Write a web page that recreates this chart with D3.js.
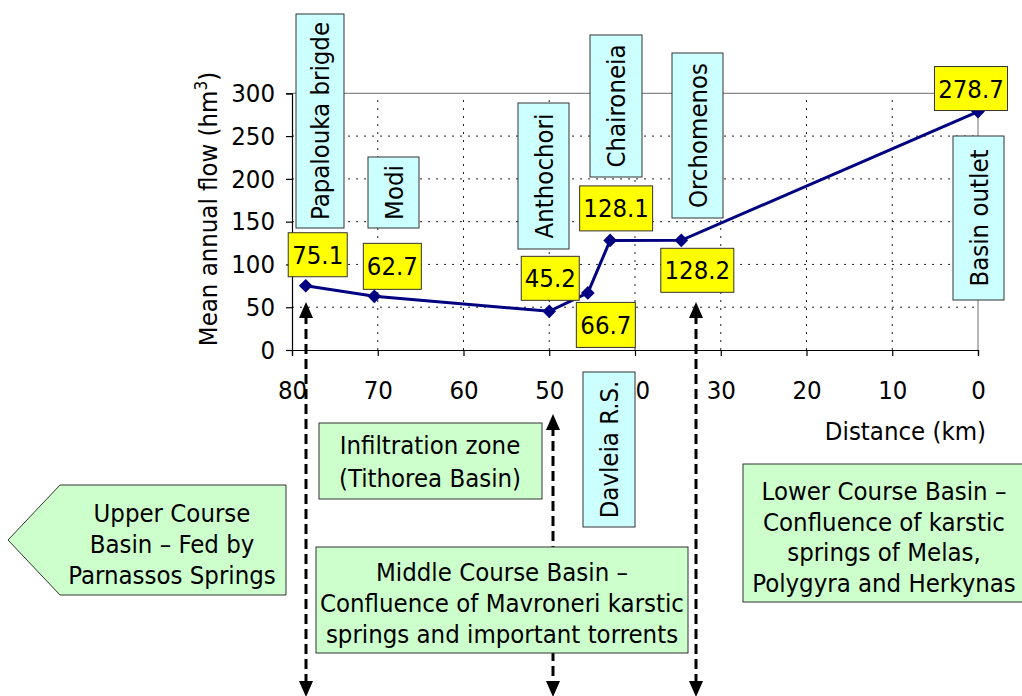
<!DOCTYPE html>
<html>
<head>
<meta charset="utf-8">
<script src="https://cdnjs.cloudflare.com/ajax/libs/d3/7.8.5/d3.min.js"></script>
<style>
body { margin: 0; background: #fff; }
text { font-family: "DejaVu Sans Condensed", "DejaVu Sans", sans-serif; font-stretch: condensed; fill: #000; }
</style>
</head>
<body>
<script>
"use strict";

// data
var distances = [78.4, 70.4, 50.0, 45.5, 42.9, 34.6, 0];
var flows = [75.1, 62.7, 45.2, 66.7, 128.1, 128.2, 278.7];
var stations = ["Papalouka brigde", "Modi", "Anthochori", "Davleia R.S.", "Chaironeia", "Orchomenos", "Basin outlet"];
var xTicks = [80, 70, 60, 50, 40, 30, 20, 10, 0];
var yTicks = [0, 50, 100, 150, 200, 250, 300];
var zoneBounds = [78.4, 49.6, 32.9];

// layout only (pixel offsets / boxes)
var valueBoxes = [ // dx, dy from point, width, height
	[12, -31, 59, 44], [18, -30, 58, 46], [1, -33, 58, 44], [18, 32, 59, 45],
	[6, -32, 73, 45], [16, 30, 73, 44], [-7, -23, 73, 44]
];
var stationBoxes = [ // x, y, w, h
	[296, 14, 48, 214], [368, 157, 51, 71], [518, 103, 51, 146], [583, 372, 52, 155],
	[590, 35, 52, 142], [672, 53, 51, 165], [953, 136, 51, 164]
];

var width = 1022, height = 696;
var fs = 25.5;

var svg = d3.select("body").append("svg")
	.attr("width", width)
	.attr("height", height);

var xScale = d3.scaleLinear().domain([80, 0]).range([292, 978]);
var yScale = d3.scaleLinear().domain([0, 300]).range([350, 93.3]);

// gridlines
var grid = svg.append("g");
grid.selectAll(".hg")
	.data(yTicks.filter(function(d) { return d > 0 && d < 300; }))
	.enter().append("line")
	.attr("x1", xScale(80)).attr("x2", xScale(0))
	.attr("y1", function(d) { return yScale(d); })
	.attr("y2", function(d) { return yScale(d); })
	.attr("stroke", "#222").attr("stroke-dasharray", "2,6");
grid.selectAll(".vg")
	.data(xTicks.filter(function(d) { return d > 0 && d < 80; }))
	.enter().append("line")
	.attr("y1", yScale(0)).attr("y2", yScale(300))
	.attr("x1", function(d) { return xScale(d); })
	.attr("x2", function(d) { return xScale(d); })
	.attr("stroke", "#222").attr("stroke-dasharray", "2,6");
// plot area border (top/right)
grid.append("path")
	.attr("d", "M" + xScale(80) + "," + yScale(300) + "H" + xScale(0) + "V" + yScale(0))
	.attr("fill", "none").attr("stroke", "#888").attr("stroke-width", 1.2);

// axes
var xAxis = svg.append("g")
	.attr("transform", "translate(0," + yScale(0) + ")")
	.call(d3.axisBottom(xScale).tickValues(xTicks).tickSizeOuter(0).tickSize(6).tickPadding(25));
var yAxis = svg.append("g")
	.attr("transform", "translate(" + xScale(80) + ",0)")
	.call(d3.axisLeft(yScale).tickValues(yTicks).tickSizeOuter(0).tickSize(6).tickPadding(11));
[xAxis, yAxis].forEach(function(a) {
	a.selectAll("path,line").attr("stroke", "#000").attr("stroke-width", 1.2);
	a.selectAll("text").style("font-size", fs + "px")
		.style("font-family", "'DejaVu Sans Condensed','DejaVu Sans',sans-serif");
});

svg.append("text")
	.attr("x", 986).attr("y", 440)
	.attr("text-anchor", "end")
	.style("font-size", fs + "px")
	.text("Distance (km)");

var yt = svg.append("text")
	.attr("transform", "translate(217,209) rotate(-90)")
	.attr("text-anchor", "middle")
	.style("font-size", fs + "px");
yt.append("tspan").text("Mean annual flow (hm");
yt.append("tspan").attr("dy", -10).style("font-size", "17px").text("3");
yt.append("tspan").attr("dy", 10).text(")");

// dashed arrows (zone boundaries)
var arrows = svg.append("g");
var arrowTop = [302, 414, 302];
zoneBounds.forEach(function(d, i) {
	var x = Math.round(xScale(d));
	arrows.append("line")
		.attr("x1", x).attr("x2", x)
		.attr("y1", arrowTop[i] + 12).attr("y2", 684)
		.attr("stroke", "#000").attr("stroke-width", 3)
		.attr("stroke-dasharray", "10,5");
	arrows.append("path")
		.attr("d", "M" + x + "," + arrowTop[i] + "l-7,16h14z");
	arrows.append("path")
		.attr("d", "M" + x + ",697l-7,-16h14z");
});

// the series
var pts = distances.map(function(d, i) { return [xScale(d), yScale(flows[i])]; });

svg.append("path")
	.datum(pts)
	.attr("d", d3.line())
	.attr("fill", "none")
	.attr("stroke", "#000080")
	.attr("stroke-width", 3);

svg.selectAll(".mk")
	.data(pts)
	.enter().append("path")
	.attr("transform", function(d) { return "translate(" + d[0] + "," + d[1] + ")"; })
	.attr("d", d3.symbol(d3.symbolDiamond2, 120))
	.attr("fill", "#000080");

// station name boxes
var sb = svg.selectAll(".sb")
	.data(stations)
	.enter().append("g");
sb.append("rect")
	.attr("x", function(d, i) { return stationBoxes[i][0]; })
	.attr("y", function(d, i) { return stationBoxes[i][1]; })
	.attr("width", function(d, i) { return stationBoxes[i][2]; })
	.attr("height", function(d, i) { return stationBoxes[i][3]; })
	.attr("fill", "#ccffff").attr("stroke", "#333").attr("stroke-width", 1);
sb.append("text")
	.attr("transform", function(d, i) {
		var b = stationBoxes[i];
		return "translate(" + (b[0] + b[2] / 2 + 9) + "," + (b[1] + b[3] / 2) + ") rotate(-90)";
	})
	.attr("text-anchor", "middle")
	.style("font-size", fs + "px")
	.text(function(d) { return d; });

// value labels
var vb = svg.selectAll(".vb")
	.data(flows)
	.enter().append("g")
	.attr("transform", function(d, i) {
		var v = valueBoxes[i];
		return "translate(" + (pts[i][0] + v[0]) + "," + (pts[i][1] + v[1]) + ")";
	});
vb.append("rect")
	.attr("x", function(d, i) { return -valueBoxes[i][2] / 2; })
	.attr("y", function(d, i) { return -valueBoxes[i][3] / 2; })
	.attr("width", function(d, i) { return valueBoxes[i][2]; })
	.attr("height", function(d, i) { return valueBoxes[i][3]; })
	.attr("fill", "#ffff00").attr("stroke", "#333").attr("stroke-width", 1);
vb.append("text")
	.attr("y", 9)
	.attr("text-anchor", "middle")
	.style("font-size", fs + "px")
	.text(function(d) { return d3.format(".1f")(d); });

// basin zone boxes
function zoneBox(x, y, w, h, lines, cx, y0, lh) {
	svg.append("rect")
		.attr("x", x).attr("y", y).attr("width", w).attr("height", h)
		.attr("fill", "#ccffcc").attr("stroke", "#333").attr("stroke-width", 1);
	svg.append("g").selectAll("text")
		.data(lines)
		.enter().append("text")
		.attr("x", cx)
		.attr("y", function(d, i) { return y0 + i * lh; })
		.attr("text-anchor", "middle")
		.style("font-size", fs + "px")
		.text(function(d) { return d; });
}

zoneBox(319, 423, 223, 76, ["Infiltration zone", "(Tithorea Basin)"], 430, 454, 33);
zoneBox(316, 547, 372, 106, ["Middle Course Basin \u2013", "Confluence of Mavroneri karstic", "springs and important torrents"], 502, 581, 31);
zoneBox(743, 464, 290, 138, ["Lower Course Basin \u2013", "Confluence of karstic", "springs of Melas,", "Polygyra and Herkynas"], 884, 500, 30.5);

svg.append("path")
	.attr("d", "M8,540L60,485H286V595H60Z")
	.attr("fill", "#ccffcc").attr("stroke", "#333").attr("stroke-width", 1);
svg.append("g").selectAll("text")
	.data(["Upper Course", "Basin \u2013 Fed by", "Parnassos Springs"])
	.enter().append("text")
	.attr("x", 172)
	.attr("y", function(d, i) { return 522 + i * 31; })
	.attr("text-anchor", "middle")
	.style("font-size", fs + "px")
	.text(function(d) { return d; });
</script>
</body>
</html>
